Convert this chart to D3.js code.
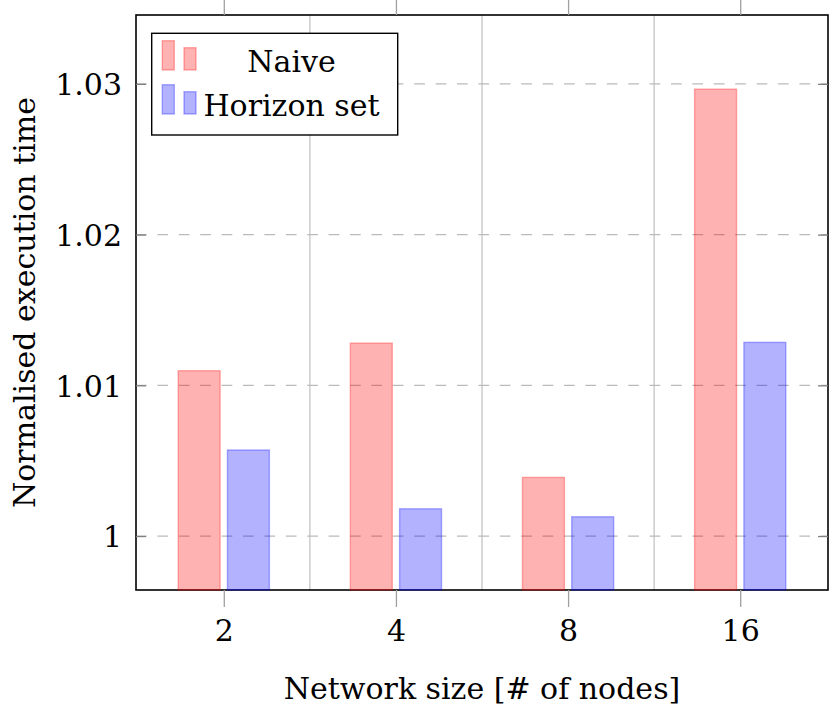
<!DOCTYPE html>
<html>
<head>
<meta charset="utf-8">
<script src="https://cdn.jsdelivr.net/npm/d3@7"></script>
<style>
  body { margin: 0; background: #fff; }
</style>
</head>
<body>
<div id="chart"></div>
<script>
"use strict";

// values
let categories = ["2", "4", "8", "16"];
let seriesNames = ["Naive", "Horizon set"];
let naiveValues = [1.01097, 1.01280, 1.00389, 1.02965];
let horizonValues = [1.00571, 1.00181, 1.00128, 1.01285];
let yTickValues = [1, 1.01, 1.02, 1.03];
let yDomain = [0.99642, 1.03457];

let width = 829, height = 719;
let margins = { top: 15, left: 136, right: 1, bottom: 129 };
let fontSize = 30;
let fontStack = "DejaVu Serif";

let colors = {
  "Naive": { fill: "red", stroke: "red" },
  "Horizon set": { fill: "blue", stroke: "blue" }
};

let svg = d3.select("#chart")
  .append("svg")
  .attr("width", width)
  .attr("height", height);

let x = d3.scalePoint()
  .domain(categories)
  .range([margins.left, width - margins.right])
  .padding(0.51);

let inner = d3.scaleBand()
  .domain(seriesNames)
  .range([-46.3, 46.3])
  .paddingInner(0.12);

let y = d3.scaleLinear()
  .domain(yDomain)
  .range([height - margins.bottom, margins.top]);

let plotLeft = margins.left, plotRight = width - margins.right;
let plotTop = margins.top, plotBottom = height - margins.bottom;

function styleText(sel) {
  sel.attr("font-family", fontStack)
    .style("font-family", fontStack)
    .style("font-size", fontSize + "px")
    .style("fill", "#000");
}

// vertical grid between categories
let midPoints = d3.range(categories.length - 1).map(i => (x(categories[i]) + x(categories[i + 1])) / 2);
svg.append("g").selectAll("line")
  .data(midPoints)
  .enter().append("line")
  .attr("x1", d => d).attr("x2", d => d)
  .attr("y1", plotTop).attr("y2", plotBottom)
  .style("stroke", "#c4c4c4")
  .style("stroke-width", 1.3);

// horizontal dashed grid
svg.append("g").selectAll("line")
  .data(yTickValues)
  .enter().append("line")
  .attr("x1", plotLeft).attr("x2", plotRight)
  .attr("y1", d => y(d)).attr("y2", d => y(d))
  .style("stroke", "#bababa")
  .style("stroke-width", 1.3)
  .style("stroke-dasharray", "10.7,10.7");

// frame
svg.append("rect")
  .attr("x", plotLeft).attr("y", plotTop)
  .attr("width", plotRight - plotLeft).attr("height", plotBottom - plotTop)
  .style("fill", "none")
  .style("stroke", "#000")
  .style("stroke-width", 1.6);

// y axis: ticks inside on both sides
let yAxis = d3.axisLeft(y)
  .tickValues(yTickValues)
  .tickSize(-10)
  .tickPadding(14)
  .tickFormat(d => d === 1 ? "1" : d3.format(".2f")(d));

let yAxisG = svg.append("g")
  .attr("transform", "translate(" + plotLeft + ",0)")
  .call(yAxis);
yAxisG.attr("font-family", fontStack);
yAxisG.select(".domain").remove();
yAxisG.selectAll("line").style("stroke", "#808080").style("stroke-width", 1.3);
yAxisG.selectAll("text")
  .call(styleText)
  .attr("dy", "0.36em");

let yAxisRight = svg.append("g")
  .attr("transform", "translate(" + plotRight + ",0)")
  .call(d3.axisRight(y).tickValues(yTickValues).tickSize(-10).tickFormat(""));
yAxisRight.select(".domain").remove();
yAxisRight.selectAll("line").style("stroke", "#808080").style("stroke-width", 1.3);

// x axis: ticks outside, top and bottom
let xAxisG = svg.append("g")
  .attr("transform", "translate(0," + plotBottom + ")")
  .call(d3.axisBottom(x).tickSize(17).tickPadding(17));
xAxisG.attr("font-family", fontStack);
xAxisG.select(".domain").remove();
xAxisG.selectAll("line").style("stroke", "#a0a0a0").style("stroke-width", 1.3);
xAxisG.selectAll("text")
  .call(styleText)
  .attr("dy", null)
  .attr("y", 51);

let xAxisTop = svg.append("g")
  .attr("transform", "translate(0," + plotTop + ")")
  .call(d3.axisTop(x).tickSize(16).tickFormat(""));
xAxisTop.select(".domain").remove();
xAxisTop.selectAll("line").style("stroke", "#a0a0a0").style("stroke-width", 1.3);

// bars
let barData = [];
categories.forEach((c, i) => {
  barData.push({ cat: c, series: "Naive", value: naiveValues[i] });
  barData.push({ cat: c, series: "Horizon set", value: horizonValues[i] });
});

svg.append("g").selectAll("rect")
  .data(barData)
  .enter().append("rect")
  .attr("x", d => x(d.cat) + inner(d.series) + 0.7)
  .attr("width", inner.bandwidth() - 1.4)
  .attr("y", d => y(d.value))
  .attr("height", d => y(yDomain[0]) - y(d.value))
  .style("fill", d => colors[d.series].fill)
  .style("fill-opacity", 0.3)
  .style("stroke", d => colors[d.series].stroke)
  .style("stroke-opacity", 0.3)
  .style("stroke-width", 1.4);

// axis labels
svg.append("text")
  .attr("x", (plotLeft + plotRight) / 2)
  .attr("y", 699)
  .attr("text-anchor", "middle")
  .call(styleText)
  .text("Network size [# of nodes]");

svg.append("text")
  .attr("transform", "translate(35," + ((plotTop + plotBottom) / 2) + ") rotate(-90)")
  .attr("text-anchor", "middle")
  .call(styleText)
  .text("Normalised execution time");

// legend
let legend = svg.append("g");
legend.append("rect")
  .attr("x", 151.7).attr("y", 33.3)
  .attr("width", 246).attr("height", 101.7)
  .style("fill", "#fff")
  .style("stroke", "#000")
  .style("stroke-width", 1.4);

seriesNames.forEach((name, i) => {
  let base = 70 + i * 44;
  let g = legend.append("g");
  [[162.3, 29.3], [184, 22.3]].forEach(b => {
    g.append("rect")
      .attr("x", b[0]).attr("y", base - b[1])
      .attr("width", 12).attr("height", b[1])
      .style("fill", colors[name].fill)
      .style("fill-opacity", 0.3)
      .style("stroke", colors[name].stroke)
      .style("stroke-opacity", 0.3)
      .style("stroke-width", 1.4);
  });
  g.append("text")
    .attr("x", 291.5)
    .attr("y", base + 1.5)
    .attr("text-anchor", "middle")
    .call(styleText)
    .text(name);
});
</script>
</body>
</html>
